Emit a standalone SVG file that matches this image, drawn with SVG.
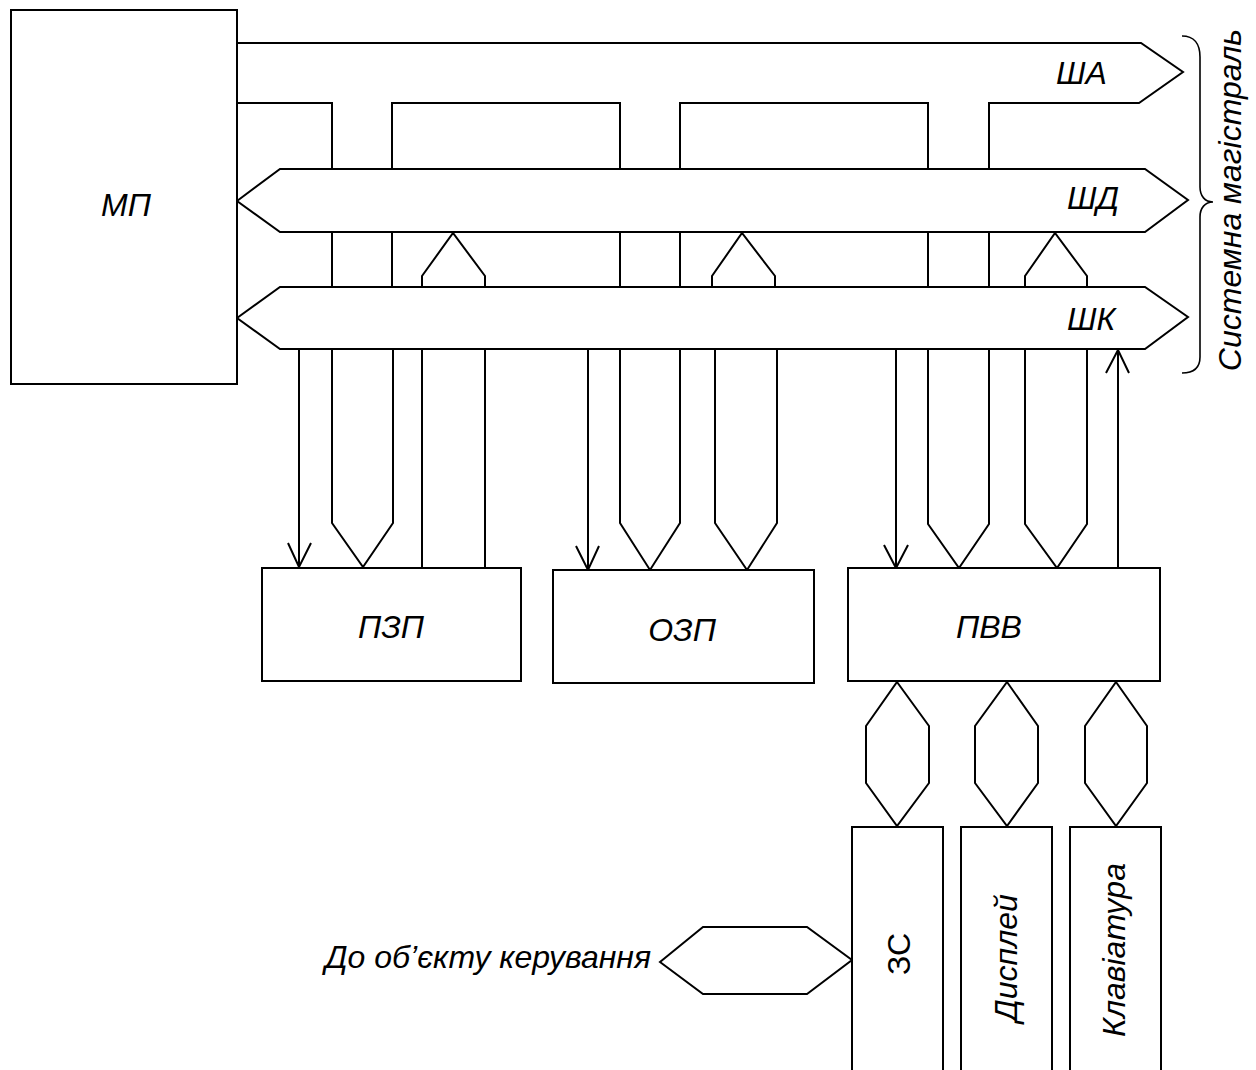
<svg xmlns="http://www.w3.org/2000/svg" width="1256" height="1070" viewBox="0 0 1256 1070">
<style>
.s{fill:none;stroke:#000;stroke-width:2;stroke-linejoin:miter;stroke-linecap:butt}
.b{fill:#fff;stroke:#000;stroke-width:2}
.t{font-family:"Liberation Sans",Arial,sans-serif;font-style:italic;font-size:32px;fill:#000}
.u{font-family:"Liberation Sans",Arial,sans-serif;font-size:32px;fill:#000}
</style>
<rect width="1256" height="1070" fill="#fff"/>
<g id="connectors">
  <path class="s" d="M237,43 H1141 L1183,72 L1139,103 H989 V169 M928,169 V103 H680 V169 M620,169 V103 H392 V169 M332,169 V103 H237"/>
  <path class="s" d="M237,201 L280,169 H1145 L1188,200 L1145,232 H280 Z"/>
  <path class="s" d="M237,318 L280,287 H1145 L1188,317 L1145,349 H280 Z"/>
  <path class="s" d="M332,232 V287 M392,232 V287 M620,232 V287 M680,232 V287 M928,232 V287 M989,232 V287"/>
  <path class="s" d="M422,287 V276 L453,233 L485,276 V287 M712,287 V276 L742,233 L775,276 V287 M1025,287 V276 L1055,233 L1087,276 V287"/>
  <path class="s" d="M299,349 V567 M288,543 L299,567 L311,543 M332,349 V523 L363,567 L393,523 V349 M422,349 V567 M485,349 V567"/>
  <path class="s" d="M588,349 V570 M576,546 L588,570 L599,546 M620,349 V523 L650,570 L680,523 V349 M715,349 V523 L747,570 L777,523 V349"/>
  <path class="s" d="M896,349 V568 M884,545 L896,568 L908,545 M928,349 V524 L959,568 L989,524 V349 M1025,349 V524 L1057,568 L1087,524 V349 M1118,568 V350 M1106,373 L1118,350 L1129,373"/>
  <path class="s" d="M897,682 L929,726 V783 L897,826 L866,783 V726 Z"/>
  <path class="s" d="M1007,682 L1038,726 V783 L1007,826 L975,783 V726 Z"/>
  <path class="s" d="M1116,682 L1147,726 V783 L1116,826 L1085,783 V726 Z"/>
  <path class="s" d="M660,962 L703,927 H807 L852,960 L807,994 H703 Z"/>
  <path d="M1182,36 C1194,36 1200,44 1200,57 V187 C1200,196 1205,202 1213,202 C1205,202 1200,208 1200,217 V357 C1200,368 1194,373 1182,373" fill="none" stroke="#000" stroke-width="1.6"/>
</g>
<g id="node-mp"><rect class="b" x="11" y="10" width="226" height="374"/><text class="t" x="101" y="216">МП</text></g>
<g id="bus-labels">
  <text class="t" x="1056" y="84">ША</text>
  <text class="t" x="1067" y="209">ШД</text>
  <text class="t" x="1067" y="330">ШК</text>
  <text class="t" transform="translate(1241,200) rotate(-90)" text-anchor="middle">Системна магістраль</text>
</g>
<g id="node-pzp"><rect class="b" x="262" y="568" width="259" height="113"/><text class="t" x="391" y="638" text-anchor="middle">ПЗП</text></g>
<g id="node-ozp"><rect class="b" x="553" y="570" width="261" height="113"/><text class="t" x="682" y="641" text-anchor="middle">ОЗП</text></g>
<g id="node-pvv"><rect class="b" x="848" y="568" width="312" height="113"/><text class="t" x="989" y="638" text-anchor="middle">ПВВ</text></g>
<g id="node-zs"><rect class="b" x="852" y="827" width="91" height="260"/><text class="u" transform="translate(910,954) rotate(-90)" text-anchor="middle">ЗС</text></g>
<g id="node-display"><rect class="b" x="961" y="827" width="91" height="260"/><text class="t" transform="translate(1017,958) rotate(-90)" text-anchor="middle">Дисплей</text></g>
<g id="node-keyboard"><rect class="b" x="1070" y="827" width="91" height="260"/><text class="t" transform="translate(1125,950) rotate(-90)" text-anchor="middle">Клавіатура</text></g>
<g id="label-object"><text class="t" x="325" y="968">До об’єкту керування</text></g>
</svg>
